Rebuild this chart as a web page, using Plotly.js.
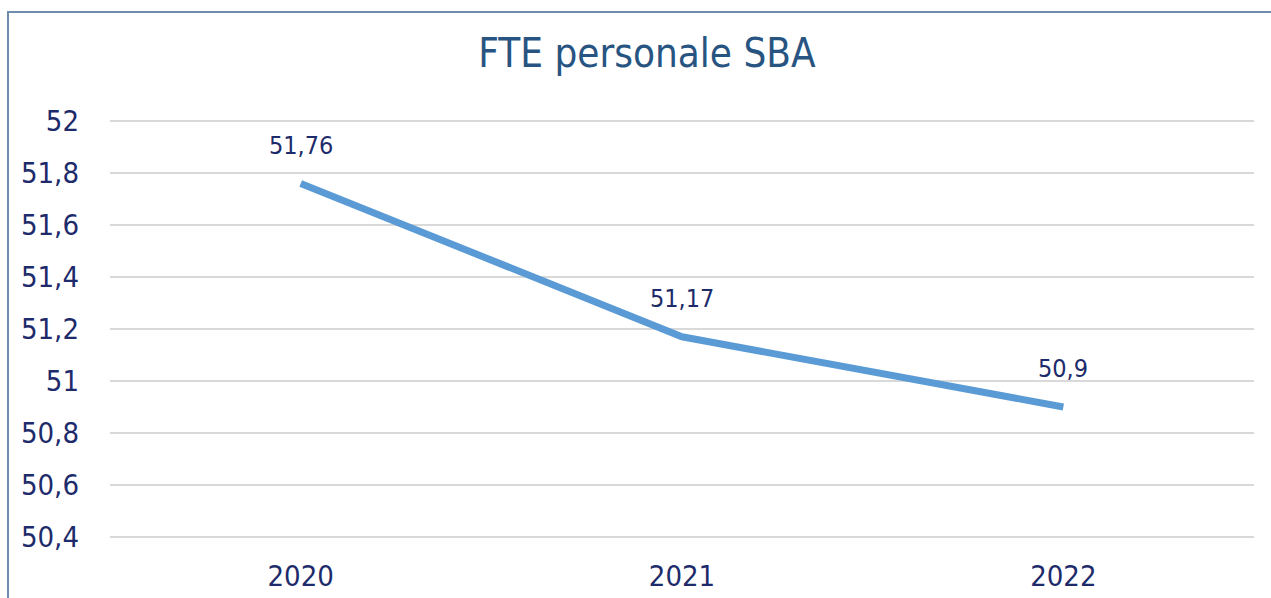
<!DOCTYPE html>
<html>
<head>
<meta charset="utf-8">
<script src="https://cdn.plot.ly/plotly-3.0.1.min.js"></script>
<style>
html,body{margin:0;padding:0;background:#fff;overflow:hidden;}
#chart{position:absolute;left:0;top:0;width:1271px;height:598px;}
#frame{position:absolute;left:7px;top:11px;width:1280px;height:600px;border-left:2px solid #6F8DAE;border-top:2px solid #6F8DAE;pointer-events:none;}
</style>
</head>
<body>
<div id="chart"></div>
<div id="frame"></div>
<script>
var years = ['2020', '2021', '2022'];
var fte = [51.76, 51.17, 50.9];
var yTicks = [50.4, 50.6, 50.8, 51, 51.2, 51.4, 51.6, 51.8, 52];

var FONT = '"DejaVu Sans Condensed", "DejaVu Sans", sans-serif';
var NAVY = '#1D2B6B';

function fmt(v){ return String(v).replace('.', ','); }

var trace = {
  type: 'scatter',
  mode: 'lines',
  x: years,
  y: fte,
  line: {color: '#5B9BD5', width: 7},
  hoverinfo: 'skip'
};

var annotations = years.map(function(yr, i){
  return {
    x: i, y: fte[i], xref: 'x', yref: 'y',
    text: fmt(fte[i]), showarrow: false,
    yshift: 38, yanchor: 'middle', xanchor: 'center',
    font: {family: FONT, size: 25, color: NAVY}
  };
});

var layout = {
  width: 1271, height: 598,
  margin: {l: 110, r: 17, t: 120, b: 60},
  paper_bgcolor: '#ffffff',
  plot_bgcolor: '#ffffff',
  separators: ',.',
  showlegend: false,
  title: {
    text: 'FTE personale SBA',
    font: {family: FONT, size: 40, color: '#285482'},
    xref: 'container', yref: 'container',
    x: 0.509, y: 0.912, xanchor: 'center', yanchor: 'middle'
  },
  xaxis: {
    type: 'category',
    range: [-0.5, 2.5],
    showgrid: false, showline: false, zeroline: false,
    ticks: '',
    ticklabelstandoff: 18,
    tickfont: {family: FONT, size: 29, color: NAVY},
    fixedrange: true
  },
  yaxis: {
    range: [50.396, 52.004],
    tickvals: yTicks,
    ticktext: yTicks.map(fmt),
    showgrid: true, gridcolor: '#D9D9D9', gridwidth: 2,
    showline: false, zeroline: false,
    ticks: '',
    ticklabelstandoff: 30,
    tickfont: {family: FONT, size: 29, color: NAVY},
    fixedrange: true
  },
  annotations: annotations
};

Plotly.newPlot('chart', [trace], layout, {displayModeBar: false, staticPlot: true});
</script>
</body>
</html>
